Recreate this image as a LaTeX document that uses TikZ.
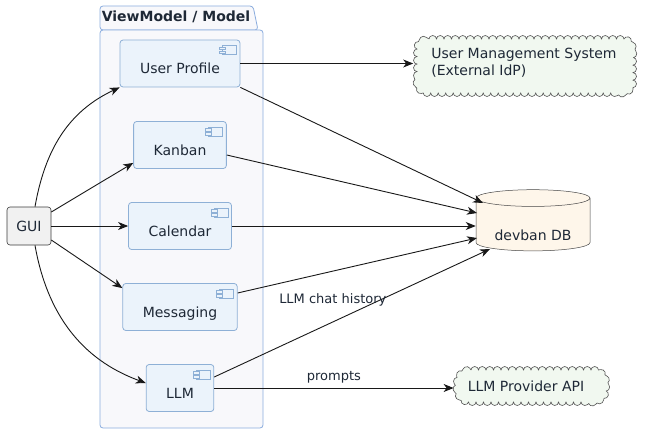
\documentclass[tikz,border=0pt]{standalone}
\usepackage{fontspec}
\setmainfont{DejaVu Sans}
\usetikzlibrary{calc,shapes.geometric,decorations.pathmorphing,arrows.meta}

\definecolor{inkc}{HTML}{1E2836}
\definecolor{linec}{HTML}{181818}
\definecolor{pkgline}{HTML}{8AACDE}
\definecolor{pkgfill}{HTML}{F8F8FB}
\definecolor{compline}{HTML}{8EB0D6}
\definecolor{compfill}{HTML}{EBF3FB}
\definecolor{guifill}{HTML}{F1F1F1}
\definecolor{cloudfill}{HTML}{F1F8F0}
\definecolor{dbfill}{HTML}{FEF6EA}

\begin{document}
\begin{tikzpicture}[x=1pt,y=-1pt,
 every node/.style={text=inkc,font=\fontsize{14}{17}\selectfont},
 comp/.style={draw=compline,fill=compfill,line width=0.8pt,rounded corners=3pt,minimum height=47pt,inner xsep=20pt,text height=22pt,text depth=2pt},
 gui/.style={draw=linec!85,fill=guifill,line width=0.6pt,rounded corners=3pt,minimum height=38pt,minimum width=44pt},
 puffs/.style={draw=linec!75,fill=cloudfill,line width=0.6pt,decorate,decoration={bumps,segment length=15pt,amplitude=3.5pt}},
 ext/.style={align=left,inner sep=0pt},
 db/.style={cylinder,shape border rotate=90,aspect=0.2,draw=linec!80,fill=dbfill,line width=0.5pt,minimum width=114pt,minimum height=45pt,text height=30pt,text depth=2pt},
 edge/.style={draw=linec,line width=0.9pt,-{Stealth[length=10pt,width=8pt,inset=3pt]}},
 lbl/.style={font=\fontsize{13}{15}\selectfont}]
\useasboundingbox (0,0) rectangle (647,433);

%Package
\draw[pkgline,fill=pkgfill,line width=0.8pt,rounded corners=3pt] (100,30) |- (253,6) -- (258,30) -- cycle;
\draw[pkgline,fill=pkgfill,line width=0.8pt,rounded corners=3pt] (100,30) rectangle (263,428);
\node[font=\bfseries\fontsize{14}{17}\selectfont] (pkgtitle) at (176,17) {ViewModel / Model};

%Clouds
\draw[puffs] (429,39) -- (621,39) arc(-90:0:12) -- (633,81) arc(0:90:12) -- (429,93) arc(90:180:12) -- (417,51) arc(180:270:12) -- cycle;
\draw[puffs] (471,370) -- (592,370) arc(-90:0:14) -- (606,388) arc(0:90:14) -- (471,402) arc(90:180:14) -- (457,384) arc(180:270:14) -- cycle;

%Nodes
\path
 (29,226) node[gui] (gui) {GUI}
 (180,63.5) node[comp] (prof) {User Profile}
 (180,145) node[comp] (kan) {Kanban}
 (180,226) node[comp] (cal) {Calendar}
 (180,307) node[comp] (msg) {Messaging}
 (180,388) node[comp] (llm) {LLM}
 (524,63) node[ext] (ums) {User Management System\\(External IdP)}
 (526,386) node[ext] (api) {LLM Provider API}
 (533,226) node[db] (db) {devban DB}
 ;

% Component icons
\foreach \c in {prof,kan,cal,msg,llm} {
  \draw[compline,fill=compfill,line width=0.6pt] ($(\c.north east)+(-18,6)$) rectangle ($(\c.north east)+(-4,15)$);
  \draw[compline,fill=compfill,line width=0.6pt] ($(\c.north east)+(-21,7.5)$) rectangle ($(\c.north east)+(-15,10)$);
  \draw[compline,fill=compfill,line width=0.6pt] ($(\c.north east)+(-21,11.5)$) rectangle ($(\c.north east)+(-15,14)$);
}

%Edges
\draw[edge] ($(gui.north)+(6,0)$) to[out=80,in=-155] (prof.south west);
\draw[edge] ($(gui.east)+(0,-14)$) -- ($(kan.south west)+(0,-6)$);
\draw[edge] (gui.east) -- (cal.west);
\draw[edge] ($(gui.east)+(0,14)$) -- ($(msg.north west)+(0,5)$);
\draw[edge] ($(gui.south)+(6,0)$) to[out=-80,in=160] ($(llm.west)+(0,-5)$);

\draw[edge] (prof.east) -- ($(prof.east -| ums.west)+(-18,0)$);
\draw[edge] (prof.south east) -- ($(db.center)+(-50,-23)$);
\draw[edge] ($(kan.east)+(0,10)$) -- ($(db.center)+(-56,-13)$);
\draw[edge] (cal.east) -- (cal.east -| db.west);
\draw[edge] ($(msg.east)+(0,-14)$) -- ($(db.center)+(-56,12)$);
\draw[edge] ($(llm.east)+(0,-11)$) -- node[lbl,pos=0.43,above=12pt] (hist) {LLM chat history} ($(db.center)+(-43,23)$);
\draw[edge] (llm.east) -- node[lbl,above=1pt] (prm) {prompts} ($(llm.east -| api.west)+(-14,0)$);
\end{tikzpicture}
\end{document}
